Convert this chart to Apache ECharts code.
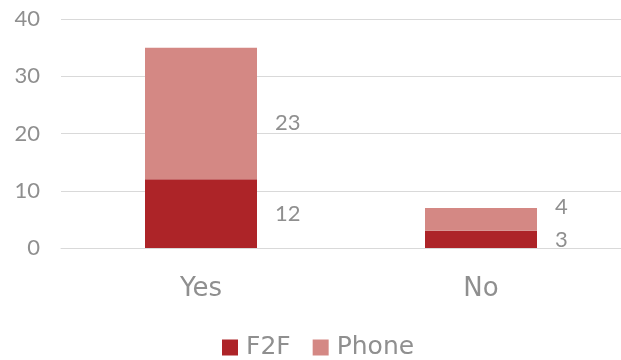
<!DOCTYPE html>
<html><head><meta charset="utf-8">
<script src="https://cdn.jsdelivr.net/npm/echarts@6/dist/echarts.min.js"></script>
<style>html,body{margin:0;padding:0;background:#fff}#c{width:621px;height:360px}</style>
</head><body><div id="c"></div>
<script>
const categories = ['Yes', 'No'];
const f2f = [12, 3];
const phone = [23, 4];
const seriesNames = ['F2F', 'Phone'];
const yTicks = [0, 10, 20, 30, 40];

const FONT = 'Lato';
const WFONT = 'DejaVu Sans';
const GRAY = '#8f8f8f';
const chart = echarts.init(document.getElementById('c'));
chart.setOption({
  animation: false,
  grid: { left: 61, right: 0, top: 19, bottom: 112 },
  legend: {
    bottom: 0, left: 222, padding: 0, itemWidth: 16, itemHeight: 16, itemGap: 22,
    icon: 'rect',
    textStyle: { fontFamily: WFONT, fontSize: 25, color: GRAY, padding: [0, 0, 0, 3] },
    data: seriesNames
  },
  xAxis: {
    type: 'category', data: categories,
    axisLine: { show: true, lineStyle: { color: '#d9d9d9', width: 1 } },
    axisTick: { show: false },
    axisLabel: { fontFamily: WFONT, fontSize: 26, color: GRAY, margin: 28 }
  },
  yAxis: {
    type: 'value', min: yTicks[0], max: yTicks[yTicks.length - 1], interval: 10,
    axisLine: { show: false }, axisTick: { show: false },
    splitLine: { lineStyle: { color: '#d9d9d9', width: 1 } },
    axisLabel: { fontFamily: FONT, fontSize: 22, color: GRAY, margin: 21 }
  },
  series: [
    {
      name: seriesNames[0], type: 'bar', stack: 's', barWidth: '40%',
      itemStyle: { color: '#ad2428' },
      label: { show: true, position: 'right', distance: 18, fontFamily: FONT, fontSize: 22, color: GRAY },
      data: f2f.map(v => ({ value: v }))
    },
    {
      name: seriesNames[1], type: 'bar', stack: 's', barWidth: '40%',
      itemStyle: { color: '#d48884' },
      label: { show: true, position: 'right', distance: 18, fontFamily: FONT, fontSize: 22, color: GRAY },
      data: phone.map((v, i) => ({ value: v, label: { offset: i === 0 ? [0, 9] : [0, -12] } }))
    }
  ]
});
</script></body></html>
